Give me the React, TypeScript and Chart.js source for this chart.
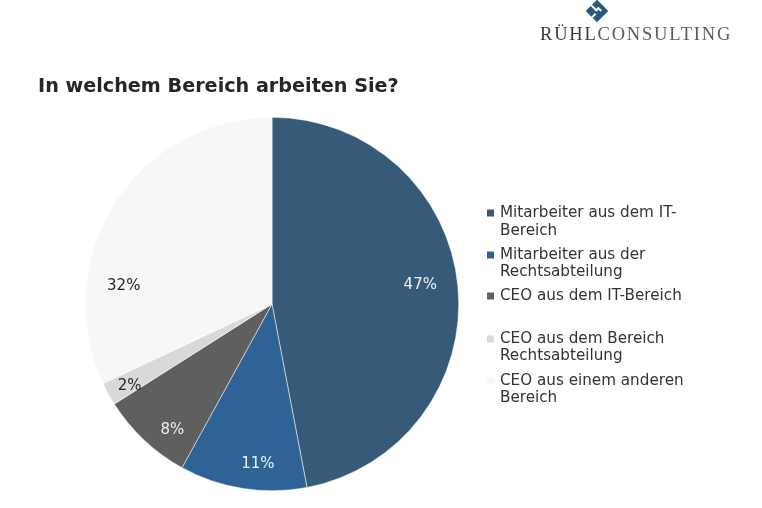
import React, { useEffect, useRef } from "react";
import { Chart, registerables } from "chart.js";

Chart.register(...registerables);

const categories = [
  ["Mitarbeiter aus dem IT-", "Bereich"],
  ["Mitarbeiter aus der", "Rechtsabteilung"],
  ["CEO aus dem IT-Bereich"],
  ["CEO aus dem Bereich", "Rechtsabteilung"],
  ["CEO aus einem anderen", "Bereich"],
];
const values = [47, 11, 8, 2, 32];
const valueLabels = ["47%", "11%", "8%", "2%", "32%"];
const colors = ["#375a78", "#2f6396", "#5f5f5f", "#d9d9d9", "#f7f7f8"];
const labelColors = ["#eef2f6", "#eef2f6", "#eeeeee", "#262626", "#262626"];
const labelAngleFrac = [0.49, 0.4, 0.33, 0.33, 0.28];
const labelRadiusFrac = [0.8, 0.86, 0.86, 0.88, 0.8];
const legendLineY = [[213, 231], [255, 272], [296], [339, 356], [381, 398]];
const title = "In welchem Bereich arbeiten Sie?";

const FONT = '"DejaVu Sans", Verdana, sans-serif';

const decorPlugin = {
  id: "decor",
  afterDatasetsDraw(chart: any) {
    const ctx = chart.ctx as CanvasRenderingContext2D;
    const meta = chart.getDatasetMeta(0);
    ctx.save();
    // data labels
    ctx.font = `15px ${FONT}`;
    ctx.textAlign = "center";
    ctx.textBaseline = "middle";
    meta.data.forEach((arc: any, i: number) => {
      const { x, y, startAngle, endAngle, outerRadius } = arc.getProps(
        ["x", "y", "startAngle", "endAngle", "outerRadius"],
        true
      );
      const a = startAngle + (endAngle - startAngle) * labelAngleFrac[i];
      const r = outerRadius * labelRadiusFrac[i];
      ctx.fillStyle = labelColors[i];
      ctx.fillText(valueLabels[i], x + Math.cos(a) * r, y + Math.sin(a) * r);
    });
    // legend
    ctx.textAlign = "left";
    ctx.font = `15.2px ${FONT}`;
    categories.forEach((lines, i) => {
      const ys = legendLineY[i];
      ctx.fillStyle = colors[i];
      ctx.fillRect(487, ys[0] - 3.5, 7, 7);
      ctx.fillStyle = "#333333";
      lines.forEach((t, j) => ctx.fillText(t, 500, ys[j]));
    });
    // title
    ctx.font = `bold 19.2px ${FONT}`;
    ctx.fillStyle = "#262626";
    ctx.textBaseline = "alphabetic";
    ctx.fillText(title, 38, 92);
    // logo icon
    ctx.save();
    ctx.translate(597, 11);
    ctx.rotate(Math.PI / 4);
    ctx.fillStyle = "#2b5a78";
    ctx.fillRect(-8, -8, 16, 16);
    ctx.strokeStyle = "#ffffff";
    ctx.lineWidth = 2;
    ctx.beginPath();
    ctx.moveTo(-8, 0);
    ctx.lineTo(-1, 0);
    ctx.lineTo(-1, -3);
    ctx.lineTo(3, -3);
    ctx.moveTo(1, 8);
    ctx.lineTo(1, 3);
    ctx.stroke();
    ctx.restore();
    // logo text
    ctx.font = `18.5px "Liberation Serif", "DejaVu Serif", serif`;
    (ctx as any).letterSpacing = "1.8px";
    ctx.fillStyle = "#3a3a3a";
    ctx.fillText("RÜHL", 540, 40);
    const w = ctx.measureText("RÜHL").width;
    ctx.fillStyle = "#5a5a5a";
    ctx.fillText("CONSULTING", 540 + w, 40);
    ctx.restore();
  },
};

export default function App() {
  const ref = useRef<HTMLCanvasElement>(null);
  useEffect(() => {
    document.body.style.margin = "0";
    const chart = new Chart(ref.current!, {
      type: "pie",
      data: {
        labels: categories.map((l) => l.join(" ")),
        datasets: [
          {
            data: values,
            backgroundColor: colors,
            borderColor: "#ffffff",
            borderWidth: 0.5,
          },
        ],
      },
      options: {
        animation: false,
        responsive: false,
        layout: { padding: { left: 85, right: 303, top: 117, bottom: 17 } },
        plugins: {
          legend: { display: false },
          tooltip: { enabled: false },
          title: { display: false },
        },
      },
      plugins: [decorPlugin],
    });
    return () => chart.destroy();
  }, []);
  return (
    <div style={{ width: 762, height: 508, background: "#ffffff" }}>
      <canvas ref={ref} width={762} height={508} />
    </div>
  );
}
